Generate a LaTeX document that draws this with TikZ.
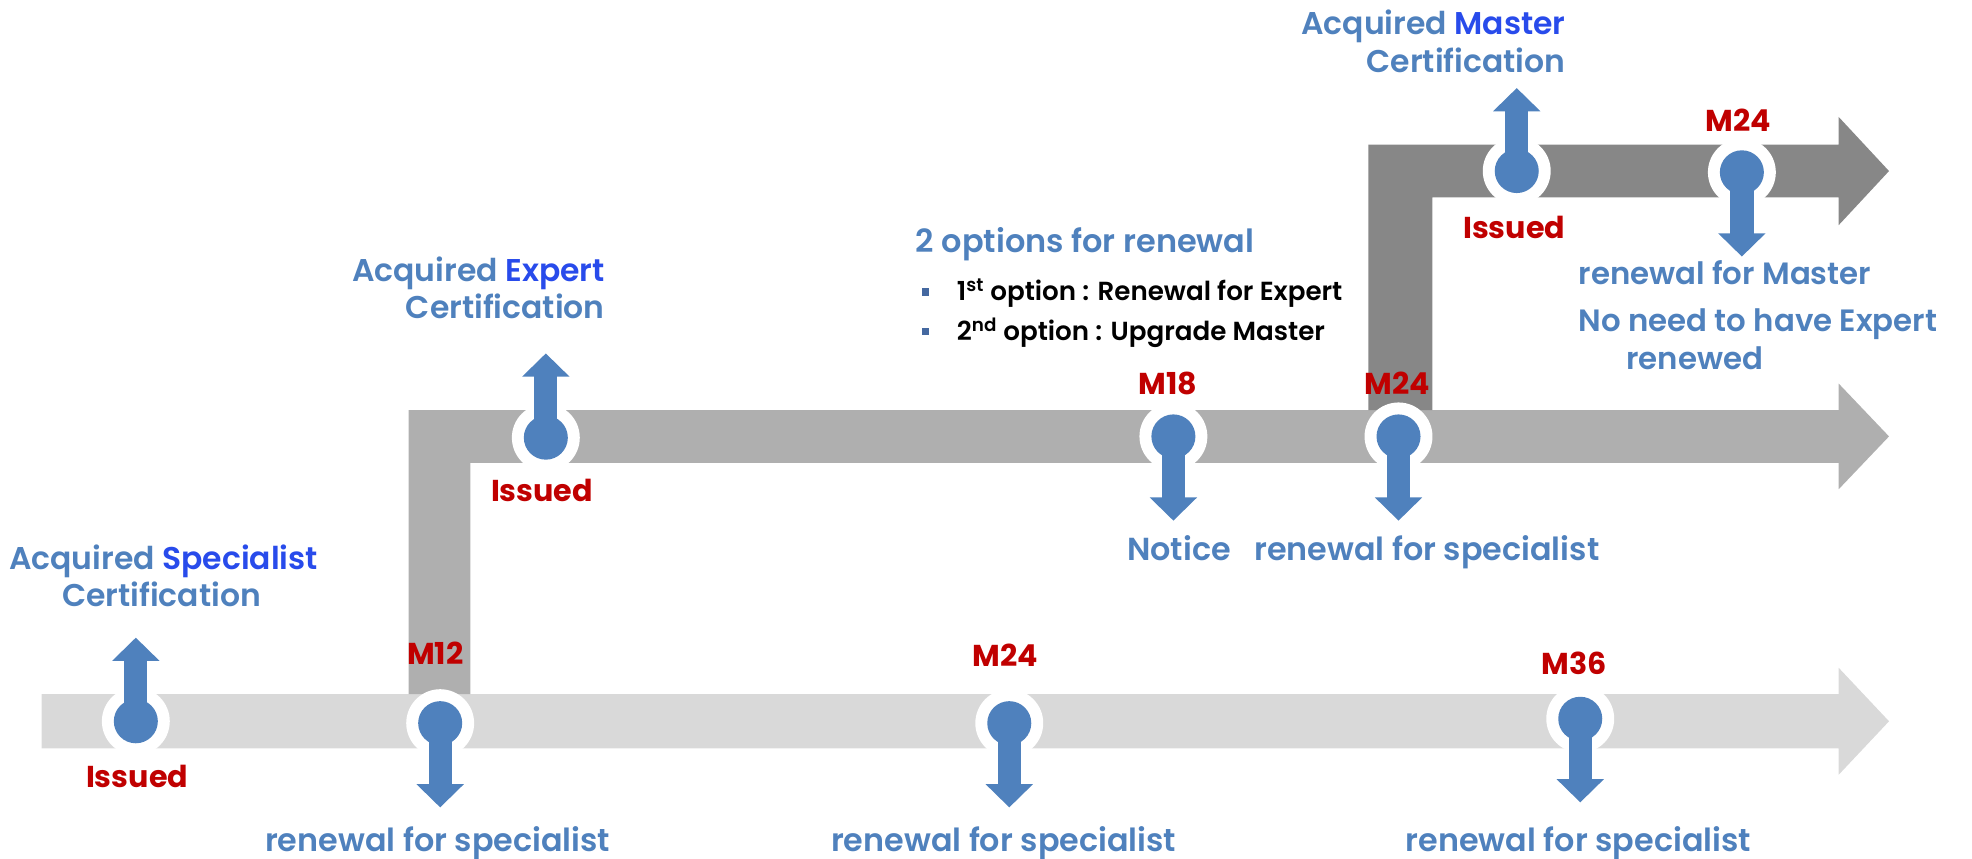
\documentclass[tikz,border=0pt]{standalone}
\usepackage{fontspec}
\setmainfont{Poppins}[UprightFont={* SemiBold},BoldFont={* Bold}]
\usetikzlibrary{arrows.meta}
\definecolor{mblue}{RGB}{79,129,189}
\definecolor{bright}{RGB}{40,75,235}
\definecolor{mred}{RGB}{192,0,0}
\definecolor{barA}{RGB}{217,217,217}
\definecolor{barB}{RGB}{175,175,175}
\definecolor{barC}{RGB}{135,135,135}
\definecolor{bul}{RGB}{68,104,160}
\tikzset{
  ring/.style={circle, fill=white, minimum size=54pt, inner sep=0pt},
  dotc/.style={circle, fill=mblue, minimum size=35pt, inner sep=0pt},
  shaft/.style={line width=18.5pt, draw=mblue, -{Triangle[width=36.6pt,length=18.5pt,fill=mblue]}},
  bluetxt/.style={text=mblue, font=\fontsize{25.3}{30}\selectfont, inner sep=0pt, anchor=base},
  acqtxt/.style={text=mblue, font=\fontsize{25}{29}\selectfont, inner sep=0pt, anchor=base},
  redtxt/.style={text=mred, font=\bfseries\fontsize{24}{28}\selectfont, inner sep=0pt, anchor=base},
  blktxt/.style={text=black, font=\fontsize{20.8}{24}\selectfont, inner sep=0pt, anchor=base west},
  righttxt/.style={text=mblue, font=\fontsize{24.5}{29}\selectfont, inner sep=0pt, anchor=base west},
  bulsq/.style={fill=bul, minimum size=6pt, inner sep=0pt},
}
\newcommand\mkr[4]{%
  \node[ring] (#1r) at (#2,#3) {};
  \coordinate (#1t) at (#2,#4);
  \draw[shaft] (#1r.center) -- (#1t);
  \node[dotc] (#1) at (#2,#3) {};
}
\begin{document}
\begin{tikzpicture}[x=1pt,y=-1pt]
\useasboundingbox (0,0) rectangle (1568,683);
% bars
\fill[barA] (33,552) -- (1462,552) -- (1462,531) -- (1502,573.5) -- (1462,616) -- (1462,595) -- (33,595) -- cycle;
\fill[barB] (325,552) -- (325,326) -- (1462,326) -- (1462,305) -- (1502,347) -- (1462,389) -- (1462,368) -- (374,368) -- (374,552) -- cycle;
\fill[barC] (1088,326) -- (1088,115) -- (1462,115) -- (1462,93) -- (1502,136) -- (1462,179) -- (1462,157) -- (1139,157) -- (1139,326) -- cycle;
% markers
\mkr{sp}{108}{573.5}{507}
\mkr{ma}{350}{575}{642}
\mkr{mb}{802.5}{575}{642}
\mkr{mc}{1256.5}{571.5}{638}
\mkr{ex}{434}{348}{281}
\mkr{md}{933}{347}{414}
\mkr{me}{1112}{347}{414}
\mkr{ms}{1206}{136}{70}
\mkr{mf}{1385}{137}{204}
% texts
\node[acqtxt] (t1) at (130,452.6) {Acquired \textcolor{bright}{Specialist}};
\node[acqtxt] (t2) at (128.5,482) {Certification};
\node[acqtxt, anchor=base east] (t3) at (481,224) {Acquired \textcolor{bright}{Expert}};
\node[acqtxt, anchor=base east] (t4) at (481,253) {Certification};
\node[acqtxt, anchor=base east] (t5) at (1245,27.8) {Acquired \textcolor{bright}{Master}};
\node[acqtxt, anchor=base east] (t6) at (1245,57.8) {Certification};
\node[redtxt] (i1) at (109,626.5) {Issued};
\node[redtxt] (i2) at (431,399) {Issued};
\node[redtxt] (i3) at (1204,190) {Issued};
\node[redtxt] (l1) at (346,528.7) {M12};
\node[redtxt] (l2) at (799.5,530) {M24};
\node[redtxt] (l3) at (1251.5,536.5) {M36};
\node[redtxt] (l4) at (928.5,314) {M18};
\node[redtxt] (l5) at (1111,314) {M24};
\node[redtxt] (l6) at (1382,104.7) {M24};
\node[bluetxt] (r1) at (348,677) {renewal for specialist};
\node[bluetxt] (r2) at (798,677) {renewal for specialist};
\node[bluetxt] (r3) at (1255,677) {renewal for specialist};
\node[bluetxt, anchor=base west] (n1) at (896,446) {Notice};
\node[bluetxt, anchor=base west] (r4) at (997,446) {renewal for specialist};
\node[bluetxt, anchor=base west, font=\fontsize{25.4}{29}\selectfont] (o0) at (728,201) {2 options for renewal};
\node[bulsq] (b1) at (736,232) {};
\node[bulsq] (b2) at (736,263.4) {};
\node[blktxt] (o1) at (760.7,239.3) {1\textsuperscript{st} option : Renewal for Expert};
\node[blktxt] (o2) at (760.7,271) {2\textsuperscript{nd} option : Upgrade Master};
\node[righttxt] (m1) at (1255,226.6) {renewal for Master};
\node[righttxt] (m2) at (1255,263.7) {No need to have Expert};
\node[righttxt] (m3) at (1293,293.4) {renewed};
\end{tikzpicture}
\end{document}
